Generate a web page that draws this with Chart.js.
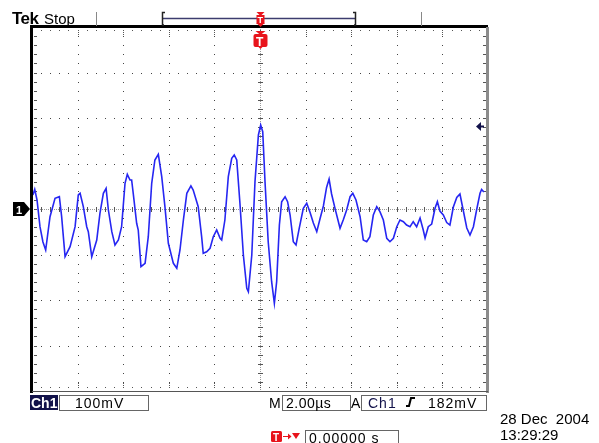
<!DOCTYPE html>
<html>
<head>
<meta charset="utf-8">
<script src="https://cdn.jsdelivr.net/npm/chart.js@4.4.0/dist/chart.umd.min.js"></script>
<style>
  html, body { margin: 0; padding: 0; background: #fff; }
  canvas { display: block; }
</style>
</head>
<body>
<canvas id="scope" width="599" height="443"></canvas>
<script>
// Ch1 trace, time relative to trigger (µs) and amplitude (mV)
const timeUs = [
  -9.96, -9.88, -9.78, -9.65, -9.52, -9.40, -9.21, -8.99, -8.80, -8.70,
  -8.55, -8.33, -8.11, -7.97, -7.89, -7.75, -7.60, -7.53, -7.38, -7.16,
  -7.02, -6.87, -6.75, -6.65, -6.50, -6.36, -6.21, -6.07, -5.92, -5.82,
  -5.70, -5.63, -5.56, -5.41, -5.34, -5.22, -5.04, -4.90, -4.75, -4.61,
  -4.46, -4.31, -4.17, -4.02, -3.80, -3.65, -3.51, -3.36, -3.21, -3.03,
  -2.93, -2.71, -2.56, -2.49, -2.34, -2.19, -2.05, -1.90, -1.75, -1.68,
  -1.54, -1.39, -1.24, -1.13, -1.02, -0.88, -0.73, -0.58, -0.51, -0.36,
  -0.22, -0.07, 0.03, 0.12, 0.22, 0.36, 0.51, 0.63, 0.73, 0.85,
  0.95, 1.10, 1.21, 1.32, 1.46, 1.58, 1.72, 1.90, 2.05, 2.19,
  2.34, 2.49, 2.63, 2.78, 2.92, 3.03, 3.14, 3.29, 3.43, 3.51,
  3.65, 3.80, 3.95, 4.07, 4.21, 4.39, 4.53, 4.68, 4.82, 4.97,
  5.12, 5.26, 5.41, 5.56, 5.70, 5.85, 6.00, 6.14, 6.29, 6.43,
  6.58, 6.72, 6.87, 7.02, 7.16, 7.24, 7.38, 7.53, 7.68, 7.78,
  7.89, 8.04, 8.19, 8.33, 8.48, 8.63, 8.77, 8.92, 9.07, 9.21,
  9.36, 9.50, 9.65, 9.72, 9.82
];
const ch1mV = [
  30.8, 43.3, 19.8, -38.9, -72.5, -90.1, -16.9, 23.5, 27.0, -16.9,
  -104.8, -82.9, -38.9, 30.8, 34.5, 5.1, -38.9, -49.9, -104.8, -68.1,
  -9.5, 34.5, 45.5, -2.2, -49.9, -79.1, -68.1, -38.9, 56.5, 76.3,
  63.7, 63.7, 34.5, -31.4, -46.2, -126.8, -119.4, -60.9, 56.5, 107.7,
  120.2, 71.0, 5.1, -75.4, -119.4, -130.3, -90.1, -24.2, 34.5, 50.6,
  41.8, 5.1, -60.9, -97.4, -93.9, -86.4, -60.9, -46.2, -64.4, -68.1,
  -24.2, 71.0, 111.4, 118.7, 107.7, 12.5, -101.1, -174.3, -181.8, -101.1,
  60.0, 162.7, 184.6, 169.9, 60.0, -71.9, -159.8, -207.3, -159.8, -35.2,
  16.0, 27.0, 16.0, -13.2, -71.9, -79.1, -42.4, 1.5, 12.5, -6.6,
  -30.8, -49.9, -22.0, 6.6, 47.3, 65.9, 33.0, 1.5, -26.4, -42.4,
  -24.2, -2.2, 27.0, 34.5, 19.8, -16.9, -68.1, -71.9, -60.9, -13.2,
  5.1, -5.9, -24.2, -64.4, -71.9, -64.4, -38.9, -24.2, -27.9, -35.2,
  -38.9, -27.9, -38.9, -19.8, -46.2, -63.7, -38.9, -33.0, 2.2, 16.0,
  -4.4, -13.2, -29.7, -35.2, 4.4, 25.3, 33.0, -4.4, -41.8, -57.1,
  -38.9, -2.2, 34.5, 42.9, 37.4
];

// front panel readouts
const chLabel = 'Ch1';
const voltsLabel = '100mV';
const timeLabel = '2.00µs';
const trigLevelLabel = '182mV';
const trigPosLabel = '0.00000 s';
const dateLabel = '28 Dec  2004';
const clockLabel = '13:29:29';

const usPerDiv = 2;
const mvPerDiv = 100;
const xDivs = 10;
const yDivs = 8;
const trigLevelMv = 182;

const FONT = '"Liberation Sans", Arial, sans-serif';
const NAVY = '#12124a';
const RED = '#e8141c';

const points = timeUs.map((t, i) => ({ x: t, y: ch1mV[i] }));

function text(ctx, str, x, y, font, color, spacing) {
  ctx.font = font;
  ctx.fillStyle = color;
  ctx.letterSpacing = spacing || '0px';
  ctx.fillText(str, x, y);
  ctx.letterSpacing = '0px';
}

function tri(ctx, color, ax, ay, bx, by, cx, cy) {
  ctx.fillStyle = color;
  ctx.beginPath();
  ctx.moveTo(ax, ay); ctx.lineTo(bx, by); ctx.lineTo(cx, cy);
  ctx.closePath();
  ctx.fill();
}

// graticule: dots every 1/5 div, dense centre cross with ticks
const graticule = {
  id: 'graticule',
  beforeDatasetsDraw(chart) {
    const { ctx, chartArea: a, scales: { x, y } } = chart;
    const px = t => Math.round(x.getPixelForValue(t));
    const py = v => Math.round(y.getPixelForValue(v));
    const xMin = -usPerDiv * xDivs / 2;
    const yMin = -mvPerDiv * yDivs / 2;
    ctx.save();

    ctx.fillStyle = '#444';
    for (let i = 1; i < xDivs; i++) {
      if (i === xDivs / 2) continue;
      const gx = px(xMin + i * usPerDiv);
      for (let k = 0; k <= yDivs * 5; k++) ctx.fillRect(gx, py(yMin + k * mvPerDiv / 5), 1, 1);
    }
    for (let j = 1; j < yDivs; j++) {
      if (j === yDivs / 2) continue;
      const gy = py(yMin + j * mvPerDiv);
      for (let k = 0; k <= xDivs * 5; k++) ctx.fillRect(px(xMin + k * usPerDiv / 5), gy, 1, 1);
    }

    // centre cross
    const cx = px(0);
    const cy = py(0);
    ctx.fillStyle = '#9a9a9a';
    for (let p = a.left; p < a.right; p += 2) ctx.fillRect(p, cy, 1, 1);
    for (let p = a.top; p < a.bottom; p += 2) ctx.fillRect(cx, p, 1, 1);
    ctx.fillStyle = '#555';
    for (let k = 0; k <= xDivs * 5; k++) ctx.fillRect(px(xMin + k * usPerDiv / 5), cy - 2, 1, 5);
    for (let k = 0; k <= yDivs * 5; k++) ctx.fillRect(cx - 2, py(yMin + k * mvPerDiv / 5), 5, 1);

    // border ticks
    for (let k = 0; k <= xDivs * 5; k++) {
      const len = k % 5 === 0 ? 6 : 2;
      const tx = px(xMin + k * usPerDiv / 5);
      for (let d = 0; d < len; d += 2) {
        ctx.fillRect(tx, a.top + 3 + d, 1, 1);
        ctx.fillRect(tx, a.bottom - 4 - d, 1, 1);
      }
    }
    for (let k = 0; k <= yDivs * 5; k++) {
      const ty = py(yMin + k * mvPerDiv / 5);
      ctx.fillRect(a.left + 2, ty, 3, 1);
      ctx.fillRect(a.right - 5, ty, 3, 1);
    }
    ctx.restore();
  },

  afterDraw(chart) {
    const { ctx, chartArea: a, scales: { x, y } } = chart;
    const cx = Math.round(x.getPixelForValue(0)) + 0.5;
    const cy = Math.round(y.getPixelForValue(0));
    ctx.save();

    // screen frame
    ctx.fillStyle = '#000';
    ctx.fillRect(a.left - 2, a.top - 2, 3, a.bottom - a.top + 4);
    ctx.fillRect(a.left - 2, a.top - 2, a.right - a.left + 2, 3);
    ctx.fillStyle = '#8c8c8c';
    ctx.fillRect(a.right - 2, a.top, 3, a.bottom - a.top + 2);
    ctx.fillStyle = '#555';
    ctx.fillRect(a.left, a.bottom, a.right - a.left, 1);

    // header
    text(ctx, 'Tek', 12, 24, 'bold 17px ' + FONT, '#000', '-0.5px');
    text(ctx, 'Stop', 44, 24, '15px ' + FONT, '#000');
    ctx.fillStyle = '#888';
    ctx.fillRect(96, 12, 1, 14);
    ctx.fillRect(421, 12, 1, 14);

    // record bar
    ctx.strokeStyle = '#3c3c6e';
    ctx.lineWidth = 1.5;
    ctx.beginPath();
    ctx.moveTo(162, 18.5); ctx.lineTo(356, 18.5);
    ctx.stroke();
    ctx.strokeStyle = '#222';
    ctx.beginPath();
    ctx.moveTo(165, 12.5); ctx.lineTo(162.5, 12.5); ctx.lineTo(162.5, 25); ctx.lineTo(164, 25);
    ctx.moveTo(353, 12.5); ctx.lineTo(355.5, 12.5); ctx.lineTo(355.5, 25); ctx.lineTo(354, 25);
    ctx.stroke();

    // trigger position markers
    tri(ctx, RED, cx - 4, 12, cx + 4, 12, cx, 16);
    ctx.fillRect(cx - 4, 15, 8, 9);
    tri(ctx, RED, cx - 4, 23, cx + 4, 23, cx, 27);
    text(ctx, 'T', cx - 3, 23, 'bold 9px ' + FONT, '#fff');

    tri(ctx, RED, cx - 5, 31, cx + 5, 31, cx, 35);
    ctx.beginPath();
    ctx.roundRect(cx - 7, 34, 14, 13, 2);
    ctx.fill();
    tri(ctx, RED, cx - 3, 46, cx + 3, 46, cx, 49);
    text(ctx, 'T', cx - 4.5, 45.5, 'bold 12px ' + FONT, '#fff');

    // Ch1 ground marker
    ctx.fillStyle = '#000';
    ctx.beginPath();
    ctx.moveTo(13, cy - 7); ctx.lineTo(24, cy - 7); ctx.lineTo(30, cy);
    ctx.lineTo(24, cy + 7); ctx.lineTo(13, cy + 7); ctx.closePath();
    ctx.fill();
    text(ctx, '1', 16, cy + 5, 'bold 11px ' + FONT, '#fff');

    // trigger level arrow
    const ly = Math.round(y.getPixelForValue(trigLevelMv)) + 0.5;
    tri(ctx, NAVY, 476, ly, 481, ly - 4.5, 481, ly + 4.5);
    ctx.fillRect(480, ly - 1, 4, 2);

    // bottom readouts
    ctx.fillStyle = NAVY;
    ctx.fillRect(30, 395, 28, 15);
    text(ctx, chLabel, 31, 408, 'bold 14px ' + FONT, '#fff');

    ctx.strokeStyle = '#666';
    ctx.lineWidth = 1;
    ctx.strokeRect(59.5, 395.5, 89, 15);
    text(ctx, voltsLabel, 75, 408, '14px ' + FONT, '#000', '1px');

    text(ctx, 'M', 269, 408, '14px ' + FONT, '#000');
    ctx.strokeRect(282.5, 395.5, 68, 15);
    text(ctx, timeLabel, 286, 408, '14px ' + FONT, '#000', '0.5px');

    text(ctx, 'A', 351, 408, '14px ' + FONT, '#000');
    ctx.strokeRect(361.5, 395.5, 125, 15);
    text(ctx, chLabel, 368, 408, '14px ' + FONT, NAVY, '1px');
    ctx.strokeStyle = '#000';
    ctx.lineWidth = 2;
    ctx.beginPath();
    ctx.moveTo(406, 406); ctx.lineTo(409, 406); ctx.lineTo(411, 398); ctx.lineTo(415, 398);
    ctx.stroke();
    text(ctx, trigLevelLabel, 428, 408, '14px ' + FONT, '#000', '1px');

    // trigger position readout
    ctx.fillStyle = RED;
    ctx.beginPath();
    ctx.roundRect(271, 431, 11, 11, 1.5);
    ctx.fill();
    text(ctx, 'T', 273, 441, 'bold 10px ' + FONT, '#fff');
    ctx.fillStyle = RED;
    ctx.fillRect(283, 436, 6, 1);
    tri(ctx, RED, 288, 433.5, 291.5, 436.5, 288, 439.5);
    tri(ctx, RED, 292, 433, 300, 433, 296, 439);
    ctx.strokeStyle = '#666';
    ctx.lineWidth = 1;
    ctx.strokeRect(305.5, 430.5, 93, 14);
    text(ctx, trigPosLabel, 309, 443, '14px ' + FONT, '#000', '1px');

    // date stamp
    text(ctx, dateLabel, 500, 424, '15px ' + FONT, '#000');
    text(ctx, clockLabel, 500, 440, '15px ' + FONT, '#000');

    ctx.restore();
  }
};

new Chart(document.getElementById('scope'), {
  type: 'line',
  data: {
    datasets: [{
      data: points,
      borderColor: '#2626f2',
      borderWidth: 1.6,
      pointRadius: 0,
      tension: 0,
      fill: false
    }]
  },
  options: {
    responsive: false,
    animation: false,
    layout: { padding: { left: 32, top: 27, right: 111, bottom: 52 } },
    plugins: { legend: { display: false }, tooltip: { enabled: false } },
    scales: {
      x: { type: 'linear', display: false, min: -usPerDiv * xDivs / 2, max: usPerDiv * xDivs / 2 },
      y: { type: 'linear', display: false, min: -mvPerDiv * yDivs / 2, max: mvPerDiv * yDivs / 2 }
    }
  },
  plugins: [graticule]
});
</script>
</body>
</html>
